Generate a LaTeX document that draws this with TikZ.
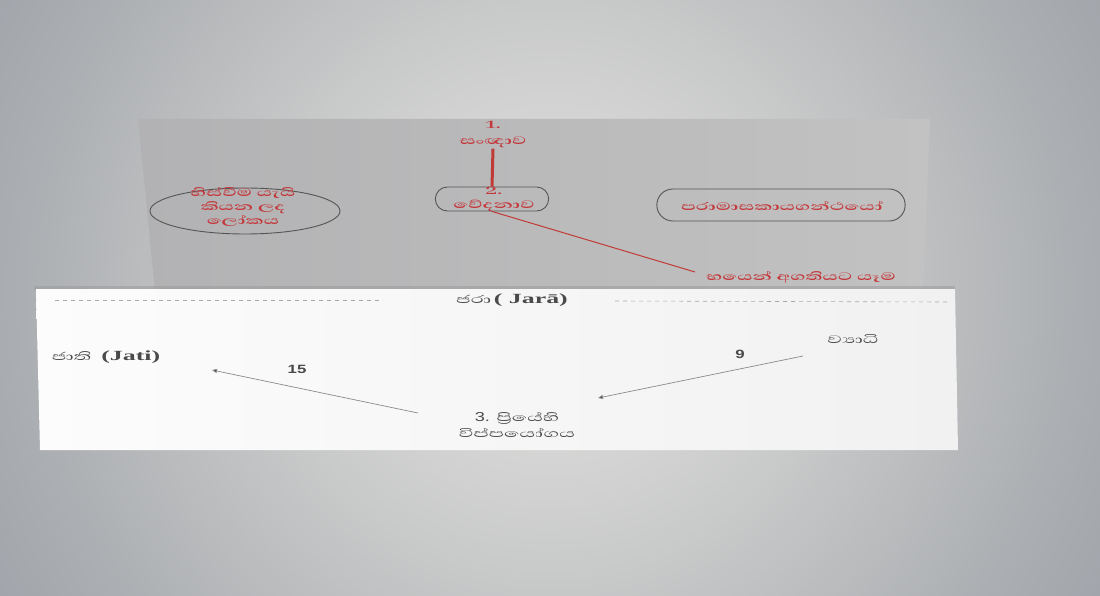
\documentclass[tikz,border=0pt]{standalone}
\usepackage{fontspec}
\setmainfont{Liberation Serif}
\newfontfamily\sinhred[Script=Sinhala,FakeStretch=1.8]{Abhaya Libre}
\newfontfamily\sinhfont[Script=Sinhala,FakeStretch=1.85]{Abhaya Libre}
\newfontfamily\latinserif[FakeStretch=1.85]{Liberation Serif}
\newfontfamily\latinsans[FakeStretch=1.4]{Liberation Sans}
\usetikzlibrary{arrows.meta,shapes.geometric,shapes.misc}
\definecolor{bgin}{HTML}{DEDFDC}
\definecolor{bgin2}{HTML}{D9DAD8}
\definecolor{bgmid}{HTML}{C8C9C9}
\definecolor{bgout}{HTML}{A9ACB0}
\definecolor{bgfar}{HTML}{9FA2A8}
\definecolor{redc}{HTML}{C4383B}
\definecolor{redl}{HTML}{C23A36}
\definecolor{olc}{HTML}{555555}
\definecolor{txtc}{HTML}{4A4A4A}
\definecolor{arrc}{HTML}{8A8A8A}
\definecolor{dashc}{HTML}{A8A8A8}
\definecolor{panelL}{HTML}{B2B2B4}
\definecolor{panelR}{HTML}{C2C2C2}
\definecolor{whiteL}{HTML}{FCFCFC}
\definecolor{whiteR}{HTML}{F1F1F1}
\pgfdeclareradialshading{bgshade}{\pgfpoint{0bp}{0bp}}{color(0bp)=(bgin); color(5bp)=(bgin2); color(13bp)=(bgmid); color(25bp)=(bgout); color(30bp)=(bgfar); color(50bp)=(bgfar)}
\begin{document}
\begin{tikzpicture}[x=1pt,y=-1pt,
  redtxt/.style={text=redc, font=\sinhred\bfseries\fontsize{14}{14}\selectfont, inner sep=0pt, align=center},
  graytxt/.style={text=txtc, font=\sinhfont\fontsize{14}{16}\selectfont, inner sep=0pt, align=center},
  numtxt/.style={text=txtc, font=\latinsans\bfseries\fontsize{12}{14}\selectfont, inner sep=0pt},
  outline/.style={draw=olc, line width=0.9pt},
  arr/.style={draw=arrc, line width=0.7pt, -{Triangle[length=5pt,width=4pt,fill=txtc]}},
  dashline/.style={draw=dashc, line width=0.6pt, dash pattern=on 4pt off 4pt}]
\useasboundingbox (0,0) rectangle (1100,596);
% background vignette
\begin{scope}
\clip (0,0) rectangle (1100,596);
\shade[shading=bgshade] (0,-260) rectangle (1100,840);
\end{scope}
% back gray panel
\shade[left color=panelL, right color=panelR] (138,119) -- (930,119) -- (923,292) -- (155,292) -- cycle;
% white front panel
\fill[black!40, opacity=0.5] (34,286) -- (955,286) -- (955,290) -- (34,290) -- cycle;
\begin{scope}
\clip (36,289) -- (955,289) -- (958,450) -- (40,450) -- cycle;
\shade[left color=whiteL, right color=whiteR] (30,285) rectangle (960,452);
\end{scope}

% ---- back panel content
\node[redtxt] (n1) at (493,125) {1.};
\node[redtxt] (sanna) at (493,142) {සංඥාව};
\node[outline, rounded rectangle, minimum width=120pt, minimum height=24pt] (ved) at (492,199) {};
\node[redtxt] (vedtxt) at (494,199) {2.\\වේදනාව};
\draw[redl, line width=3pt] (sanna.south) ++(0,1) coordinate (vtop) (vtop) -- (ved.north);

\node[outline, ellipse, minimum width=190pt, minimum height=46pt] (lok) at (245,211) {};
\node[redtxt] (loktxt) at (243,207) {හිස්වීම යැයි\\කියන ලද\\ලෝකය};

\node[outline, rounded rectangle, minimum width=255pt, minimum height=32pt] (param) at (781,205) {};
\node[redtxt] (paramtxt) at (782,206) {පරාමාසකායගන්ථයෝ};

\node[redtxt] (bhaya) at (801,277) {භයෙන් අගතියට යෑම};
\coordinate (bhayaend) at (695,272);
\draw[redl, line width=1pt] (ved.south) -- (bhayaend);

% ---- front panel content
\node[text=txtc, inner sep=0pt] (jara) at (512,300) {{\sinhfont\fontsize{14}{16}\selectfont ජරා} {\latinserif\bfseries\fontsize{14}{16}\selectfont ( Jarā)}};
\coordinate (dl1) at (55,300);
\coordinate (dl2) at (383,300);
\coordinate (dr1) at (615,301);
\coordinate (dr2) at (947,302);
\draw[dashline] (dl1) -- (dl2);
\draw[dashline] (dr1) -- (dr2);

\node[text=txtc, inner sep=0pt] (jati) at (106,357) {{\sinhfont\fontsize{14}{16}\selectfont ජාති}\hspace{10pt}{\latinserif\bfseries\fontsize{14}{16}\selectfont (Jati)}};
\node[graytxt] (vyadhi) at (853,339) {ව්‍යාධි};
\node[graytxt] (prio) at (517,425) {{\latinsans\fontsize{13}{15}\selectfont 3.} ප්‍රියේහි\\විප්පයෝගය};

\node[numtxt] (n15) at (297,369) {15};
\node[numtxt] (n9) at (740,354) {9};

\coordinate (a15s) at (418,413);
\coordinate (a15e) at (212,370);
\coordinate (a9s) at (803,356);
\coordinate (a9e) at (598,398);
\draw[arr] (a15s) -- (a15e);
\draw[arr] (a9s) -- (a9e);
\end{tikzpicture}
\end{document}
